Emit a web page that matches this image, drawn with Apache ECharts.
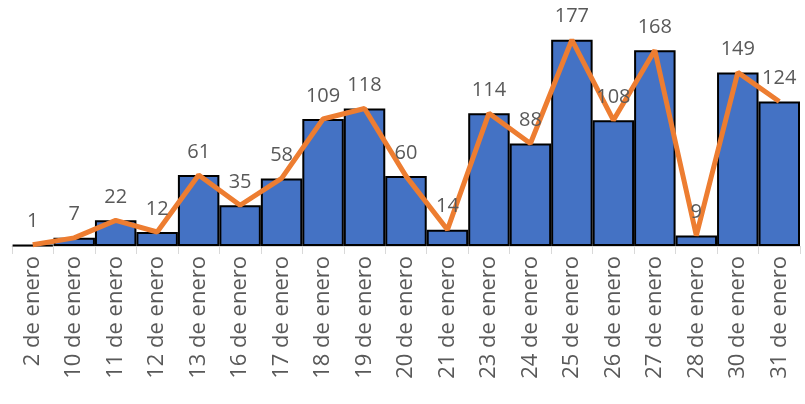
<!DOCTYPE html>
<html>
<head>
<meta charset="utf-8">
<script src="https://cdn.jsdelivr.net/npm/echarts@6/dist/echarts.min.js"></script>
<style>
  html, body { margin: 0; padding: 0; background: #fff; }
  #chart { width: 805px; height: 404px; }
</style>
</head>
<body>
<div id="chart"></div>
<script>
// categorias (dias)
var dias = ['2 de enero', '10 de enero', '11 de enero', '12 de enero', '13 de enero', '16 de enero',
    '17 de enero', '18 de enero', '19 de enero', '20 de enero', '21 de enero', '23 de enero',
    '24 de enero', '25 de enero', '26 de enero', '27 de enero', '28 de enero', '30 de enero', '31 de enero'];

// valores
var valores = [1, 7, 22, 12, 61, 35, 58, 109, 118, 60, 14, 114, 88, 177, 108, 168, 9, 149, 124];

var myChart = echarts.init(document.getElementById('chart'));

var option = {
    animation: false,
    grid: {
        left: 12,
        right: 5,
        top: 13,
        bottom: 158
    },
    xAxis: {
        type: 'category',
        data: dias,
        axisLine: { lineStyle: { color: '#d9d9d9', width: 1 } },
        axisTick: { show: true, length: 8, lineStyle: { color: '#d9d9d9' } },
        axisLabel: {
            rotate: 90,
            interval: 0,
            margin: 10,
            color: '#595959',
            fontSize: 22,
            fontFamily: 'Open Sans'
        }
    },
    yAxis: {
        type: 'value',
        min: 0,
        max: 200,
        show: false,
        splitLine: { show: false }
    },
    series: [
        {
            type: 'bar',
            data: valores,
            barGap: '0%',
            barCategoryGap: '0%',
            itemStyle: {
                color: '#4472C4',
                borderColor: '#000',
                borderWidth: 2
            },
            z: 2
        },
        {
            type: 'line',
            data: valores,
            symbol: 'circle',
            symbolSize: 0.1,
            showSymbol: true,
            itemStyle: { color: '#ED7D31' },
            lineStyle: { color: '#ED7D31', width: 5 },
            label: {
                show: true,
                position: 'top',
                distance: 13,
                color: '#595959',
                fontSize: 20,
                fontFamily: 'Open Sans'
            },
            z: 3
        }
    ]
};

option && myChart.setOption(option);
</script>
</body>
</html>
